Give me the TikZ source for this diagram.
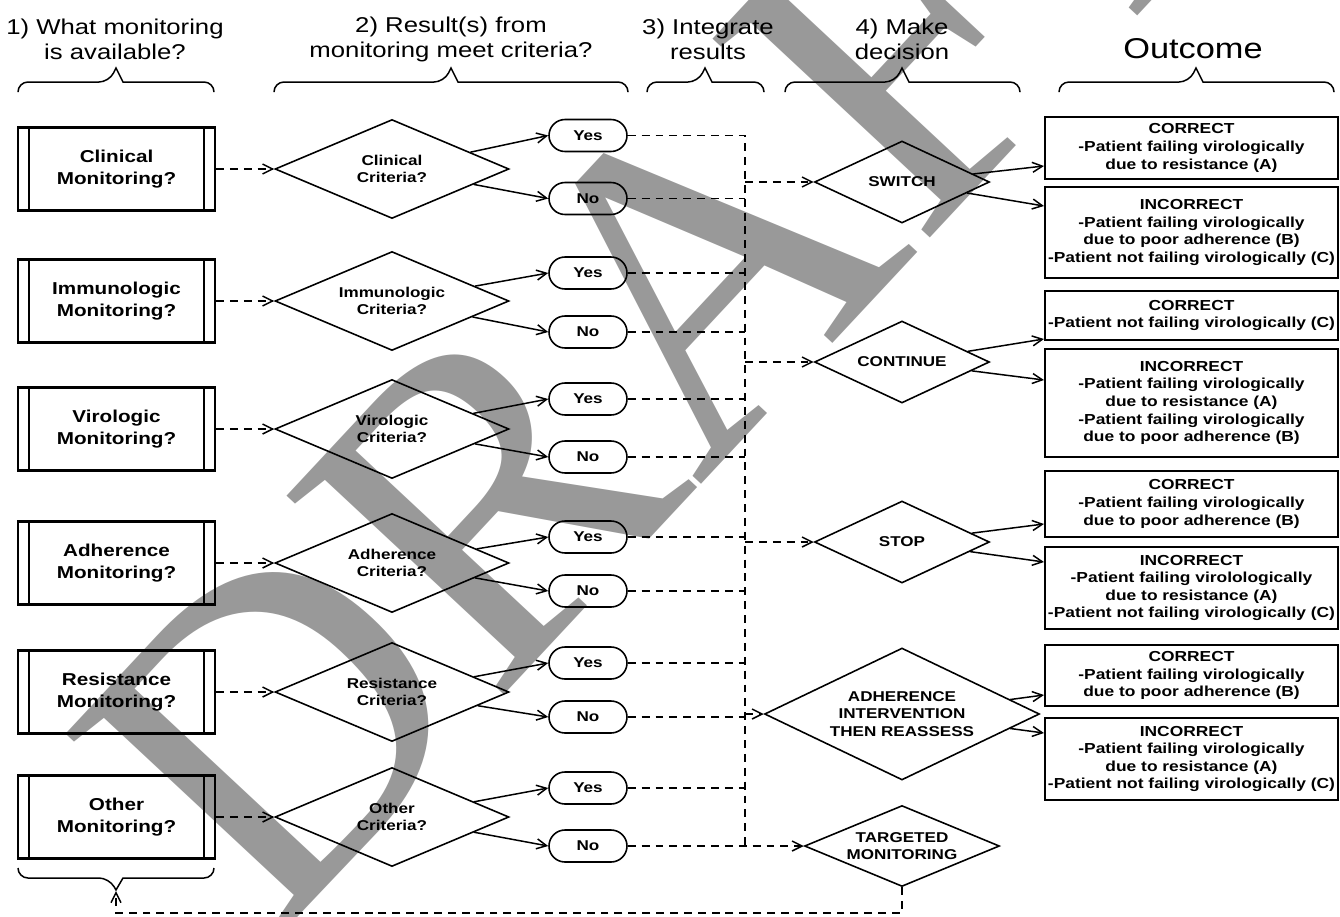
\documentclass[tikz,border=0pt]{standalone}
\usepackage{fontspec}
\setmainfont{Liberation Sans}[FakeStretch=1.2]
\newfontfamily\draftfont{Liberation Serif}
\usetikzlibrary{shapes.geometric,shapes.misc,arrows.meta}
\tikzset{
  >={Straight Barb[length=2mm,width=2mm]},
  link/.style={line width=0.85pt, dash pattern=on 4.5pt off 3.4pt},
  flow/.style={line width=0.85pt},
  head/.style={align=center, font=\fontsize{12.2}{14.2}\selectfont},
  grp/.style={line width=0.85pt},
  monbox/.style={draw, line width=1.2pt, minimum width=3.94cm, minimum height=1.66cm,
    align=center, font=\bfseries\fontsize{9.8}{12.3}\selectfont,
    path picture={\draw[line width=0.85pt]
      ([xshift=0.22cm]path picture bounding box.north west) -- ([xshift=0.22cm]path picture bounding box.south west)
      ([xshift=-0.22cm]path picture bounding box.north east) -- ([xshift=-0.22cm]path picture bounding box.south east);}},
  crit/.style={diamond, draw, line width=0.9pt, aspect=2.36, minimum width=4.68cm, minimum height=1.98cm,
    inner sep=0pt, align=center, font=\bfseries\fontsize{8.1}{9.8}\selectfont},
  ans/.style={rounded rectangle, draw, line width=0.9pt, minimum width=1.56cm, minimum height=0.64cm,
    inner sep=0pt, font=\bfseries\fontsize{8.1}{9.8}\selectfont},
  act/.style={diamond, draw, line width=0.9pt, aspect=2.13, minimum width=3.5cm, minimum height=1.64cm,
    inner sep=0pt, align=center, font=\bfseries\fontsize{8.1}{9.8}\selectfont},
  outbox/.style={draw, line width=1.2pt, minimum width=5.86cm, inner sep=0pt,
    align=center, font=\bfseries\fontsize{8.25}{10}\selectfont},
}
\begin{document}
\begin{tikzpicture}[x=0.02cm, y=-0.02cm]
\useasboundingbox (0,0) rectangle (1340,917);
% watermark
\node[rotate=47, anchor=base, text=black!40, font=\draftfont\fontsize{256}{256}\selectfont] (wm) at (775,405) {DRAFT};
% column headings
\node[head] (h1) at (115,39) {1) What monitoring\\is available?};
\node[head] (h2) at (451,39) {2) Result(s) from\\monitoring meet criteria?};
\node[head] (h3) at (708,39) {3) Integrate\\results};
\node[head] (h4) at (902,39) {4) Make\\decision};
\node[font=\fontsize{16.3}{18}\selectfont] (h5) at (1193,49) {Outcome};
% braces
\draw[grp] (18,92) [rounded corners=0.2cm] |- (109,82) [sharp corners] -- (116,68) -- (123,82) [rounded corners=0.2cm] -| (214,92);
\draw[grp] (274,92) [rounded corners=0.2cm] |- (444,82) [sharp corners] -- (451,68) -- (458,82) [rounded corners=0.2cm] -| (628,92);
\draw[grp] (647,92) [rounded corners=0.2cm] |- (698,82) [sharp corners] -- (705,68) -- (712,82) [rounded corners=0.2cm] -| (764,92);
\draw[grp] (785,92) [rounded corners=0.2cm] |- (895,82) [sharp corners] -- (902,68) -- (909,82) [rounded corners=0.2cm] -| (1020,92);
\draw[grp] (1059,92) [rounded corners=0.2cm] |- (1189,82) [sharp corners] -- (1196,68) -- (1203,82) [rounded corners=0.2cm] -| (1334,92);
\draw[grp] (18,868) [rounded corners=0.2cm] |- (109,878) [sharp corners] -- (116,890) -- (123,878) [rounded corners=0.2cm] -| (214,868);
% monitoring
\node[monbox] (m1) at (116.5,169) {Clinical\\Monitoring?};
\node[monbox] (m2) at (116.5,301) {Immunologic\\Monitoring?};
\node[monbox] (m3) at (116.5,429) {Virologic\\Monitoring?};
\node[monbox] (m4) at (116.5,563) {Adherence\\Monitoring?};
\node[monbox] (m5) at (116.5,692) {Resistance\\Monitoring?};
\node[monbox] (m6) at (116.5,817) {Other\\Monitoring?};
% criteria
\node[crit] (c1) at (392,169) {Clinical\\Criteria?};
\node[crit] (c2) at (392,301) {Immunologic\\Criteria?};
\node[crit] (c3) at (392,429) {Virologic\\Criteria?};
\node[crit] (c4) at (392,563) {Adherence\\Criteria?};
\node[crit] (c5) at (392,692) {Resistance\\Criteria?};
\node[crit] (c6) at (392,817) {Other\\Criteria?};
% answers
\node[ans] (y1) at (588,135.5) {Yes};
\node[ans] (n1) at (588,198.5) {No};
\node[ans] (y2) at (588,273) {Yes};
\node[ans] (n2) at (588,332) {No};
\node[ans] (y3) at (588,399) {Yes};
\node[ans] (n3) at (588,457) {No};
\node[ans] (y4) at (588,537) {Yes};
\node[ans] (n4) at (588,591) {No};
\node[ans] (y5) at (588,663) {Yes};
\node[ans] (n5) at (588,717) {No};
\node[ans] (y6) at (588,788) {Yes};
\node[ans] (n6) at (588,846) {No};
% decisions
\node[act] (sw) at (902,182) {SWITCH};
\node[act] (co) at (902,362) {CONTINUE};
\node[act] (st) at (902,542) {STOP};
\node[act, aspect=2.08, minimum width=5.5cm, minimum height=2.64cm] (ai) at (902,714) {ADHERENCE\\INTERVENTION\\THEN REASSESS};
\node[act, aspect=2.4, minimum width=3.9cm, minimum height=1.62cm] (tm) at (902,846) {TARGETED\\MONITORING};
% outcomes
\node[outbox, minimum height=1.24cm] (o1) at (1191.5,148) {CORRECT\\-Patient failing virologically\\due to resistance (A)};
\node[outbox, minimum height=1.82cm] (o2) at (1191.5,232.5) {INCORRECT\\-Patient failing virologically\\due to poor adherence (B)\\-Patient not failing virologically (C)};
\node[outbox, minimum height=0.98cm] (o3) at (1191.5,315.5) {CORRECT\\-Patient not failing virologically (C)};
\node[outbox, minimum height=2.16cm] (o4) at (1191.5,403) {INCORRECT\\-Patient failing virologically\\due to resistance (A)\\-Patient failing virologically\\due to poor adherence (B)};
\node[outbox, minimum height=1.32cm] (o5) at (1191.5,504) {CORRECT\\-Patient failing virologically\\due to poor adherence (B)};
\node[outbox, minimum height=1.64cm] (o6) at (1191.5,588) {INCORRECT\\-Patient failing virolologically\\due to resistance (A)\\-Patient not failing virologically (C)};
\node[outbox, minimum height=1.22cm] (o7) at (1191.5,675.5) {CORRECT\\-Patient failing virologically\\due to poor adherence (B)};
\node[outbox, minimum height=1.64cm] (o8) at (1191.5,759) {INCORRECT\\-Patient failing virologically\\due to resistance (A)\\-Patient not failing virologically (C)};
% bus and feedback points
\coordinate (bus) at (745,135.5);
\coordinate (busend) at (745,846);
\coordinate (bt) at (116,891);
\coordinate (fb) at (116,913);
\draw [link,->] (m1.east) -- (c1.west);
\draw [link,->] (m2.east) -- (c2.west);
\draw [link,->] (m3.east) -- (c3.west);
\draw [link,->] (m4.east) -- (c4.west);
\draw [link,->] (m5.east) -- (c5.west);
\draw [link,->] (m6.east) -- (c6.west);
\draw [flow,->] (c1) -- (y1.west);
\draw [flow,->] (c1) -- (n1.west);
\draw [flow,->] (c2) -- (y2.west);
\draw [flow,->] (c2) -- (n2.west);
\draw [flow,->] (c3) -- (y3.west);
\draw [flow,->] (c3) -- (n3.west);
\draw [flow,->] (c4) -- (y4.west);
\draw [flow,->] (c4) -- (n4.west);
\draw [flow,->] (c5) -- (y5.west);
\draw [flow,->] (c5) -- (n5.west);
\draw [flow,->] (c6) -- (y6.west);
\draw [flow,->] (c6) -- (n6.west);
\draw [link] (y1.east) -- (bus) -- (busend);
\draw [link] (n1.east) -- (n1.east -| bus);
\draw [link] (y2.east) -- (y2.east -| bus);
\draw [link] (n2.east) -- (n2.east -| bus);
\draw [link] (y3.east) -- (y3.east -| bus);
\draw [link] (n3.east) -- (n3.east -| bus);
\draw [link] (y4.east) -- (y4.east -| bus);
\draw [link] (n4.east) -- (n4.east -| bus);
\draw [link] (y5.east) -- (y5.east -| bus);
\draw [link] (n5.east) -- (n5.east -| bus);
\draw [link] (y6.east) -- (y6.east -| bus);
\draw [link,->] (n6.east) -- (tm.west);
\draw [link,->] (sw.west -| bus) -- (sw.west);
\draw [link,->] (co.west -| bus) -- (co.west);
\draw [link,->] (st.west -| bus) -- (st.west);
\draw [link,->] (ai.west -| bus) -- (ai.west);
\draw [flow,->] (sw) -- ([yshift=-0.36cm]o1.west);
\draw [flow,->] (sw) -- ([yshift=0.53cm]o2.west);
\draw [flow,->] (co) -- ([yshift=-0.47cm]o3.west);
\draw [flow,->] (co) -- ([yshift=0.46cm]o4.west);
\draw [flow,->] (st) -- ([yshift=-0.40cm]o5.west);
\draw [flow,->] (st) -- ([yshift=0.52cm]o6.west);
\draw [flow,->] (ai) -- ([yshift=-0.39cm]o7.west);
\draw [flow,->] (ai) -- ([yshift=0.52cm]o8.west);
\draw [link,->] (tm.south) |- (fb) -- (bt);
\end{tikzpicture}
\end{document}
